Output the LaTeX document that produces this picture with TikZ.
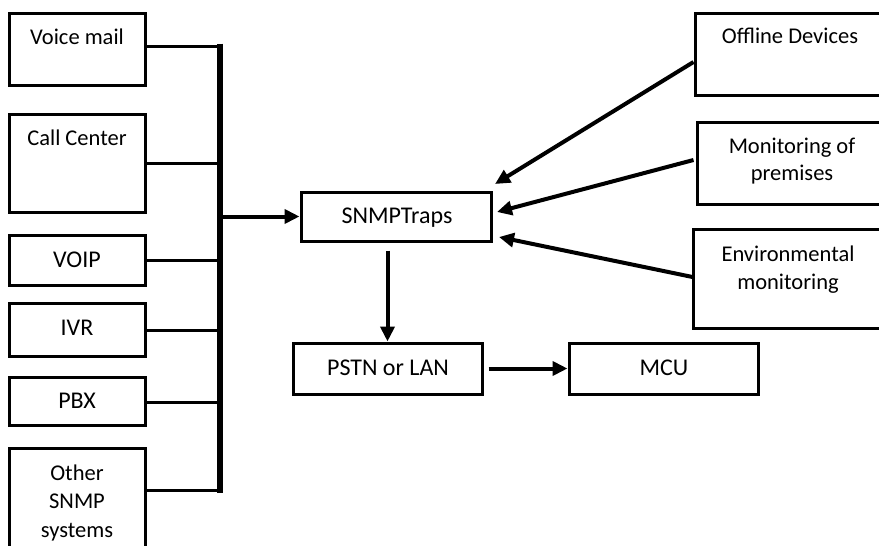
\documentclass[tikz,border=0pt]{standalone}
\usepackage{fontspec}
\setmainfont{Carlito}
\usetikzlibrary{arrows.meta,calc}
\begin{document}
\begin{tikzpicture}[x=1pt,y=-1pt,
  box/.style={draw, line width=3pt, inner sep=0pt, minimum width=136pt},
  wbox/.style={box, minimum width=190pt},
  txt/.style={anchor=base, inner sep=0pt, font=\fontsize{22.5}{28}\selectfont},
  btxt/.style={txt, font=\fontsize{24}{28}\selectfont},
  conn/.style={line width=3pt},
  bus/.style={line width=6pt},
  arr/.style={line width=4pt, -{Triangle[length=15pt,width=14pt]}}]
\clip (0,0) rectangle (879,546);
\fill[white] (0,0) rectangle (879,546);
% left column
\node[box, minimum height=72pt] (vm) at (77,49) {};
\node[txt] (vmt) at (77,44) {Voice mail};
\node[box, minimum height=98pt] (cc) at (77,163) {};
\node[txt] (cct) at (77,145) {Call Center};
\node[box, minimum height=50pt] (voip) at (77,260) {};
\node[btxt] (voipt) at (77,267) {VOIP};
\node[box, minimum height=53pt] (ivr) at (77,329.5) {};
\node[btxt] (ivrt) at (77,335) {IVR};
\node[box, minimum height=48pt] (pbx) at (77,401) {};
\node[btxt] (pbxt) at (77,408) {PBX};
\node[box, minimum height=112pt] (oth) at (77,504) {};
\node[txt] (otht1) at (77,480) {Other};
\node[txt] (otht2) at (77,508) {SNMP};
\node[txt] (otht3) at (77,537) {systems};
% right column
\node[wbox, minimum height=82pt] (off) at (790,54) {};
\node[txt] (offt) at (790,43) {Offline Devices};
\node[wbox, minimum height=82pt] (mon) at (792,163) {};
\node[txt] (mont1) at (792,153) {Monitoring of};
\node[txt] (mont2) at (792,180) {premises};
\node[wbox, minimum height=99pt] (env) at (788,278.5) {};
\node[txt] (envt1) at (788,261) {Environmental};
\node[txt] (envt2) at (788,289) {monitoring};
% middle
\node[wbox, minimum height=49pt] (snmp) at (396,216.5) {};
\node[btxt] (snmpt) at (397,223) {SNMPTraps};
\node[box, minimum width=189pt, minimum height=51pt] (pstn) at (387.5,368.5) {};
\node[btxt] (pstnt) at (388,375) {PSTN or LAN};
\node[box, minimum width=189pt, minimum height=51pt] (mcu) at (663.5,368.5) {};
\node[btxt] (mcut) at (664,375) {MCU};
% bus
\coordinate (bt) at (220,43.5);
\coordinate (bb) at (220,493);
\draw[bus] (bt) -- (bb);
\foreach \n/\dy in {vm/-3, cc/0, voip/0, ivr/0.5, pbx/1, oth/-14}
  \draw[conn] ($(\n.east)+(0,\dy)$) coordinate (cx) -- (cx -| bt);
\draw[arr] (snmp.west -| bt) -- (snmp.west);
% incoming arrows
\coordinate (t1) at (495,184);
\coordinate (t2) at (497,212);
\coordinate (t3) at (499,237);
\draw[arr] ($(off.west)+(0,8)$) -- (t1);
\draw[arr] ($(mon.west)+(-2,-3)$) -- (t2);
\draw[arr] ($(env.west)+(1,-1.5)$) -- (t3);
% down and right
\draw[arr] ($(snmp.south -| pstn.north)+(0,8)$) -- (pstn.north);
\draw[arr] ($(pstn.east)+(5,0)$) -- (mcu.west);
\end{tikzpicture}
\end{document}
